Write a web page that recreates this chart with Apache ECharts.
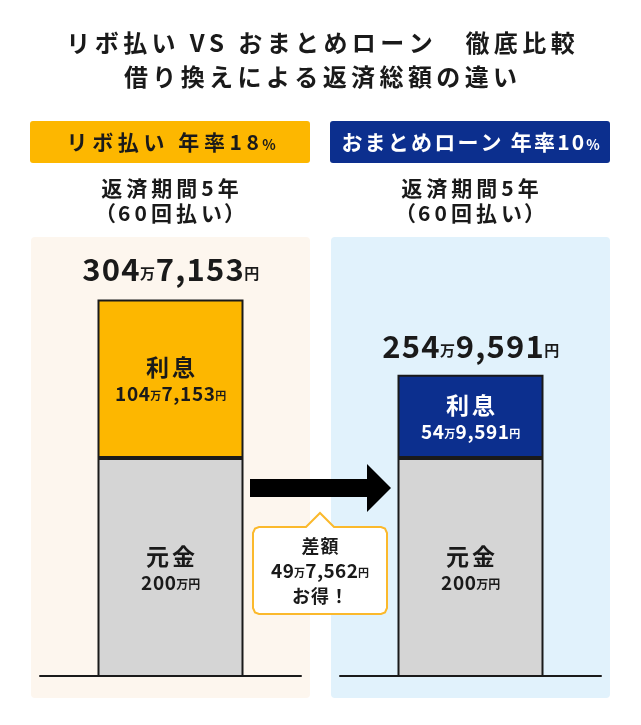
<!DOCTYPE html>
<html>
<head>
<meta charset="utf-8">
<script src="https://cdn.jsdelivr.net/npm/echarts@6/dist/echarts.min.js"></script>
<style>
  html, body { margin: 0; padding: 0; background: #fff; }
  #main { width: 641px; height: 725px; }
</style>
</head>
<body>
<div id="main"></div>
<script>
// データ（円）
var categories = ['リボ払い', 'おまとめローン'];
var rates = ['18', '10'];
var principalYen = [2000000, 2000000];
var interestYen = [1047153, 549591];

var FONT = '"Noto Sans CJK JP", "Noto Sans", sans-serif';
var INK = '#1a1a1a';
var ORANGE = '#fdb700';
var NAVY = '#0c2f8e';
var GRAY = '#d5d5d5';

// 1文字ずつ rich トークンにして字間をつける
function sp(str, st) {
  return str.split('').map(function (ch) { return '{' + st + '|' + ch + '}'; }).join('');
}

// 304万7,153円 -> rich text
function yenRich(y, n, u) {
  var man = Math.floor(y / 10000);
  var rest = y % 10000;
  if (!rest) return sp(String(man), n) + '{' + u + '|万円}';
  return sp(String(man), n) + '{' + u + '|万}' + sp(rest.toLocaleString('en-US'), n) + '{' + u + '|円}';
}

function rs(size, color, extra) {
  var o = { fontSize: size, fontWeight: 'bold', fontFamily: FONT, color: color, fill: color };
  for (var k in extra) o[k] = extra[k];
  return o;
}

var principalMan = principalYen.map(function (v) { return v / 10000; });
var interestMan = interestYen.map(function (v) { return v / 10000; });
var totalYen = principalYen.map(function (v, i) { return v + interestYen[i]; });
var diffYen = totalYen[0] - totalYen[1];

var myChart = echarts.init(document.getElementById('main'));

var grids = [], xAxes = [], yAxes = [], series = [];
var panelX = [40, 340];
for (var i = 0; i < 2; i++) {
  grids.push({ left: panelX[i], width: 261, top: 246, height: 430 });
  xAxes.push({
    type: 'category', gridIndex: i, data: [categories[i]],
    axisLine: { lineStyle: { color: INK, width: 2 } },
    axisTick: { show: false }, axisLabel: { show: false }
  });
  yAxes.push({
    type: 'value', gridIndex: i, min: 56, max: 340,
    show: false, splitLine: { show: false }
  });
  series.push({
    type: 'bar', xAxisIndex: i, yAxisIndex: i, stack: 's' + i,
    barWidth: 146, data: [principalMan[i]],
    itemStyle: { color: GRAY, borderColor: INK, borderWidth: 2 },
    label: {
      show: true, position: 'inside', color: INK, fontFamily: FONT,
      formatter: (function (k) {
        return function () { return sp('元金', 't') + '\n' + yenRich(principalYen[k], 'n', 'u'); };
      })(i),
      rich: {
        t: rs(23, INK, { lineHeight: 30, padding: [0, 1.5] }),
        n: rs(19, INK, { lineHeight: 22, padding: [0, 0.3] }),
        u: rs(12, INK, { lineHeight: 22, padding: [4, 0, 0, 0] })
      }
    }
  });
  var txt = i === 0 ? INK : '#fff';
  series.push({
    type: 'bar', xAxisIndex: i, yAxisIndex: i, stack: 's' + i,
    barWidth: 146, data: [interestMan[i]],
    itemStyle: { color: i === 0 ? ORANGE : NAVY, borderColor: INK, borderWidth: 2 },
    label: {
      show: true, position: 'inside', color: txt, fontFamily: FONT,
      formatter: (function (k) {
        return function () { return sp('利息', 't') + '\n' + yenRich(interestYen[k], 'n', 'u'); };
      })(i),
      rich: {
        t: rs(23, txt, { lineHeight: 30, padding: [0, 1.5] }),
        n: rs(19, txt, { lineHeight: 22, padding: [0, 0.3] }),
        u: rs(11, txt, { lineHeight: 22, padding: [4, 0, 0, 0] })
      }
    }
  });
  series.push({
    type: 'scatter', xAxisIndex: i, yAxisIndex: i,
    data: [principalMan[i] + interestMan[i]],
    symbolSize: 1, itemStyle: { color: 'rgba(0,0,0,0)' }, z: 5,
    label: {
      show: true, position: 'top', distance: i === 0 ? 12 : 10, color: INK, opacity: 1,
      textBorderWidth: 0, fontFamily: FONT,
      formatter: (function (k) {
        return function () { return yenRich(totalYen[k], 'n', 'u'); };
      })(i),
      rich: {
        n: rs(31, INK, { lineHeight: 36, padding: [0, 0.6] }),
        u: rs(15, INK, { lineHeight: 36, padding: [8, 0, 0, 0] })
      }
    }
  });
}

var graphics = [
  // パネル背景
  { type: 'rect', z: -10, shape: { x: 31, y: 237, width: 279, height: 461, r: 4 }, style: { fill: '#fdf6ee' } },
  { type: 'rect', z: -10, shape: { x: 331, y: 237, width: 279, height: 461, r: 4 }, style: { fill: '#e1f2fc' } },
  // タイトル
  { type: 'text', x: 320.5, y: 60, style: {
      text: sp('リボ払い VS おまとめローン　徹底比較', 'a') + '\n' + sp('借り換えによる返済総額の違い', 'a'),
      align: 'center', verticalAlign: 'middle',
      rich: { a: rs(24, INK, { lineHeight: 34, padding: [0, 2.2] }) } } },
  // 見出し
  { type: 'rect', shape: { x: 30, y: 121, width: 280, height: 42, r: 3 }, style: { fill: ORANGE } },
  { type: 'rect', shape: { x: 330, y: 121, width: 280, height: 42, r: 3 }, style: { fill: NAVY } }
];
var headPad = [2.3, 1.1];
for (var j = 0; j < 2; j++) {
  var cx = j === 0 ? 170 : 470;
  var c = j === 0 ? INK : '#fff';
  graphics.push({ type: 'text', x: cx, y: 142, style: {
    text: sp(categories[j] + ' 年率' + rates[j], 'a') + '{b|%}',
    align: 'center', verticalAlign: 'middle',
    rich: {
      a: rs(21, c, { padding: [0, headPad[j]] }),
      b: rs(14, c, { padding: [5, 0, 0, 1] })
    } } });
  graphics.push({ type: 'text', x: cx, y: 201, style: {
    text: sp('返済期間5年', 's') + '\n{p|（}' + sp('60回払い', 's') + '{p|）}',
    align: 'center', verticalAlign: 'middle',
    rich: {
      s: rs(21, INK, { lineHeight: 25, padding: [0, 2] }),
      p: rs(21, INK, { lineHeight: 25 })
    } } });
}
// 矢印
graphics.push({ type: 'polygon', shape: { points: [[250, 479], [367, 479], [367, 464], [391, 488], [367, 512], [367, 497], [250, 497]] },
  style: { fill: '#000' } });
// 吹き出し
graphics.push({ type: 'polygon', shape: { points: [
    [259, 527], [306, 527], [320, 513], [334, 527], [381, 527], [385, 528.5], [387, 533],
    [387, 608], [385, 612.5], [381, 614], [259, 614], [255, 612.5], [253, 608], [253, 533], [255, 528.5]
  ] }, style: { fill: '#fff', stroke: '#fbb92c', lineWidth: 2 } });
graphics.push({ type: 'text', x: 320, y: 571, style: {
  text: sp('差額', 't') + '\n' + yenRich(diffYen, 'n', 'u') + '\n' + sp('お得！', 't'),
  align: 'center', verticalAlign: 'middle',
  rich: {
    t: rs(18, INK, { lineHeight: 25, padding: [0, 0.5] }),
    n: rs(19, INK, { lineHeight: 25, padding: [0, 0.2] }),
    u: rs(11, INK, { lineHeight: 25, padding: [4, 0, 0, 0] })
  } } });

myChart.setOption({
  animation: false,
  backgroundColor: '#fff',
  grid: grids,
  xAxis: xAxes,
  yAxis: yAxes,
  series: series,
  graphic: graphics
});
</script>
</body>
</html>
